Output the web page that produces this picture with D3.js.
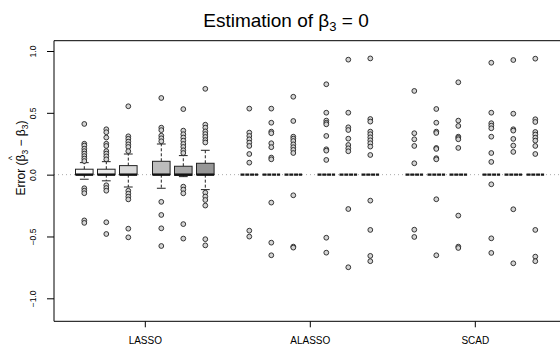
<!DOCTYPE html>
<html>
<head>
<meta charset="utf-8">
<script src="https://cdn.jsdelivr.net/npm/d3@7/dist/d3.min.js"></script>
<style>
  body { margin: 0; background: #fff; }
  svg text { font-family: "Liberation Sans", Arial, sans-serif; fill: #000; }
</style>
</head>
<body>
<div id="chart"></div>
<script>
// methods on the x axis, 6 boxes per method
var methods = ["LASSO", "ALASSO", "SCAD"];
var yTicks = [-1, -0.5, 0, 0.5, 1];

// box statistics, LASSO boxes then ALASSO then SCAD (all zero)
var q1 =          [0, 0, 0, 0, -0.005, 0,   0,0,0,0,0,0,   0,0,0,0,0,0];
var med =         [0, 0, 0, 0, 0, 0,        0,0,0,0,0,0,   0,0,0,0,0,0];
var q3 =          [0.044, 0.044, 0.073, 0.108, 0.068, 0.092,   0,0,0,0,0,0,   0,0,0,0,0,0];
var whiskerLow =  [-0.037, -0.05, -0.10, -0.11, -0.016, -0.121, 0,0,0,0,0,0,  0,0,0,0,0,0];
var whiskerHigh = [0.097, 0.105, 0.167, 0.248, 0.154, 0.197,  0,0,0,0,0,0,   0,0,0,0,0,0];

var outliers = [
  [0.41, 0.25, 0.235, 0.21, 0.19, 0.17, 0.15, 0.13, 0.11, -0.11, -0.13, -0.15, -0.37, -0.39],
  [0.367, 0.343, 0.30, 0.25, 0.232, 0.19, 0.17, 0.148, 0.124, -0.086, -0.108, -0.13, -0.385, -0.48],
  [0.553, 0.31, 0.29, 0.267, 0.245, 0.224, 0.19, -0.13, -0.154, -0.178, -0.2, -0.437, -0.507],
  [0.62, 0.38, 0.36, 0.315, 0.294, 0.27, -0.22, -0.326, -0.434, -0.577],
  [0.53, 0.356, 0.327, 0.30, 0.275, 0.248, 0.224, 0.197, 0.175, -0.097, -0.121, -0.151, -0.40, -0.517],
  [0.694, 0.404, 0.38, 0.35, 0.328, 0.305, 0.28, 0.26, -0.146, -0.177, -0.205, -0.25, -0.522, -0.572],
  [0.534, 0.34, 0.313, 0.286, 0.259, 0.232, 0.167, 0.097, -0.453, -0.501],
  [0.534, 0.42, 0.348, 0.335, 0.254, 0.222, 0.138, 0.124, -0.226, -0.55, -0.652],
  [0.63, 0.434, 0.307, 0.291, 0.272, 0.245, 0.222, 0.2, 0.175, -0.167, -0.582, -0.59],
  [0.731, 0.501, 0.437, 0.42, 0.407, 0.313, 0.205, 0.194, 0.119, -0.51, -0.631],
  [0.93, 0.501, 0.383, 0.361, 0.291, 0.24, 0.213, 0.189, -0.278, -0.749],
  [0.94, 0.45, 0.429, 0.348, 0.327, 0.302, 0.278, 0.254, 0.227, 0.159, -0.21, -0.447, -0.657, -0.70],
  [0.677, 0.335, 0.286, 0.232, 0.092, -0.445, -0.504],
  [0.531, 0.42, 0.348, 0.337, 0.216, 0.208, 0.133, 0.124, -0.199, -0.652],
  [0.747, 0.437, 0.394, 0.307, 0.297, 0.286, 0.216, -0.331, -0.582, -0.593],
  [0.905, 0.501, 0.416, 0.396, 0.375, 0.307, 0.175, 0.103, -0.078, -0.515, -0.633],
  [0.927, 0.493, 0.367, 0.356, 0.289, 0.235, 0.184, -0.28, -0.717],
  [0.938, 0.448, 0.426, 0.345, 0.324, 0.299, 0.275, 0.232, 0.167, -0.447, -0.663, -0.70]
];

var boxFill = ["#fafafa", "#ebebeb", "#d9d9d9", "#bdbdbd", "#a8a8a8", "#969696"];

var W = 560, H = 350;
var plot = { left: 54, top: 40.7, right: 566, bottom: 321.3 };

// position of box i (units of one box step); groups are 7.5 steps apart
function boxPos(i) {
  var g = Math.floor(i / 6), k = i % 6;
  return g * 7.5 + (k < 3 ? k + 1 : k + 1.5);
}
function groupPos(g) { return g * 7.5 + 3.75; }

var x = d3.scaleLinear().domain([1, 21.5]).range([84.3, 535.3]);
var y = d3.scaleLinear().domain([-1, 1]).range([298.3, 51]);
var step = x(2) - x(1);
var bw = step * 0.8;

var svg = d3.select("#chart").append("svg")
  .attr("width", W).attr("height", H);

// zero reference line
svg.append("line")
  .attr("x1", plot.left).attr("x2", W)
  .attr("y1", y(0)).attr("y2", y(0))
  .attr("stroke", "#aaa").attr("stroke-width", 1)
  .attr("stroke-dasharray", "1,3");

var boxes = svg.append("g").selectAll("g")
  .data(d3.range(outliers.length))
  .enter().append("g");

// boxes and whiskers
boxes.each(function(i) {
  var g = d3.select(this), cx = x(boxPos(i));
  if (q3[i] === q1[i] && whiskerHigh[i] === whiskerLow[i]) {
    // degenerate box: everything at the median
    g.append("line")
      .attr("x1", cx - bw / 2).attr("x2", cx + bw / 2)
      .attr("y1", y(med[i])).attr("y2", y(med[i]))
      .attr("stroke", "#1a1a1a").attr("stroke-width", 2.2)
      .attr("stroke-dasharray", "4,0.8");
    return;
  }
  [[q3[i], whiskerHigh[i]], [q1[i], whiskerLow[i]]].forEach(function(w) {
    g.append("line")
      .attr("x1", cx).attr("x2", cx)
      .attr("y1", y(w[0])).attr("y2", y(w[1]))
      .attr("stroke", "#222").attr("stroke-dasharray", "3,2");
    g.append("line")
      .attr("x1", cx - bw / 4).attr("x2", cx + bw / 4)
      .attr("y1", y(w[1])).attr("y2", y(w[1]))
      .attr("stroke", "#222");
  });
  g.append("rect")
    .attr("x", cx - bw / 2).attr("width", bw)
    .attr("y", y(q3[i])).attr("height", y(q1[i]) - y(q3[i]))
    .attr("fill", boxFill[i % 6]).attr("stroke", "#222");
  g.append("line")
    .attr("x1", cx - bw / 2).attr("x2", cx + bw / 2)
    .attr("y1", y(med[i])).attr("y2", y(med[i]))
    .attr("stroke", "#111").attr("stroke-width", 2.4);
});

// outliers
boxes.selectAll("circle")
  .data(function(i) { return outliers[i].map(function(v) { return { i: i, v: v }; }); })
  .enter().append("circle")
  .attr("cx", function(d) { return x(boxPos(d.i)); })
  .attr("cy", function(d) { return y(d.v); })
  .attr("r", 2.4)
  .attr("fill", "#d4d4d4")
  .attr("stroke", "#222").attr("stroke-width", 0.9);

// frame: left, top, bottom
svg.append("path")
  .attr("d", "M" + plot.right + "," + plot.top + "H" + plot.left + "V" + plot.bottom + "H" + plot.right)
  .attr("fill", "none").attr("stroke", "#000").attr("stroke-width", 1);

// y axis
var yAxis = svg.append("g")
  .attr("transform", "translate(" + plot.left + ",0)")
  .call(d3.axisLeft(y).tickValues(yTicks).tickSize(7)
    .tickFormat(function(d) { return d3.format(".1f")(d).replace("-", "\u2212"); }));
yAxis.select(".domain").remove();
yAxis.selectAll("line").attr("stroke", "#000");
yAxis.selectAll("text")
  .attr("transform", "rotate(-90)")
  .attr("x", 0)
  .attr("y", -18)
  .attr("dy", 0)
  .attr("text-anchor", "middle")
  .attr("font-size", "8.5px");

// x axis
var xAxis = svg.append("g")
  .attr("transform", "translate(0," + plot.bottom + ")")
  .call(d3.axisBottom(x).tickValues([0, 1, 2].map(groupPos)).tickSize(6)
    .tickFormat(function(d, j) { return methods[j]; }));
xAxis.select(".domain").remove();
xAxis.selectAll("line").attr("stroke", "#000");
xAxis.selectAll("text").attr("y", 16).attr("dy", "0.71em").attr("font-size", "10px");

// title
var title = svg.append("text")
  .attr("x", 286).attr("y", 27)
  .attr("text-anchor", "middle")
  .attr("font-size", "19px");
title.append("tspan").text("Estimation of \u03b2");
title.append("tspan").attr("dy", 4).attr("font-size", "13px").text("3");
title.append("tspan").attr("dy", -4).text(" = 0");

// y axis title with a hat over the first beta
var yl = svg.append("g").attr("transform", "translate(25,158) rotate(-90)");
var ylt = yl.append("text").attr("text-anchor", "middle").attr("font-size", "12px");
ylt.append("tspan").text("Error (\u03b2");
ylt.append("tspan").attr("dy", 3).attr("font-size", "8.5px").text("3");
ylt.append("tspan").attr("dy", -3).text(" \u2212 \u03b2");
ylt.append("tspan").attr("dy", 3).attr("font-size", "8.5px").text("3");
ylt.append("tspan").attr("dy", -3).text(")");
var bi = "Error (".length;
var p0 = ylt.node().getStartPositionOfChar(bi);
var p1 = ylt.node().getEndPositionOfChar(bi);
yl.append("text")
  .attr("x", (p0.x + p1.x) / 2).attr("y", -10)
  .attr("text-anchor", "middle").attr("font-size", "9px")
  .text("^");
</script>
</body>
</html>
